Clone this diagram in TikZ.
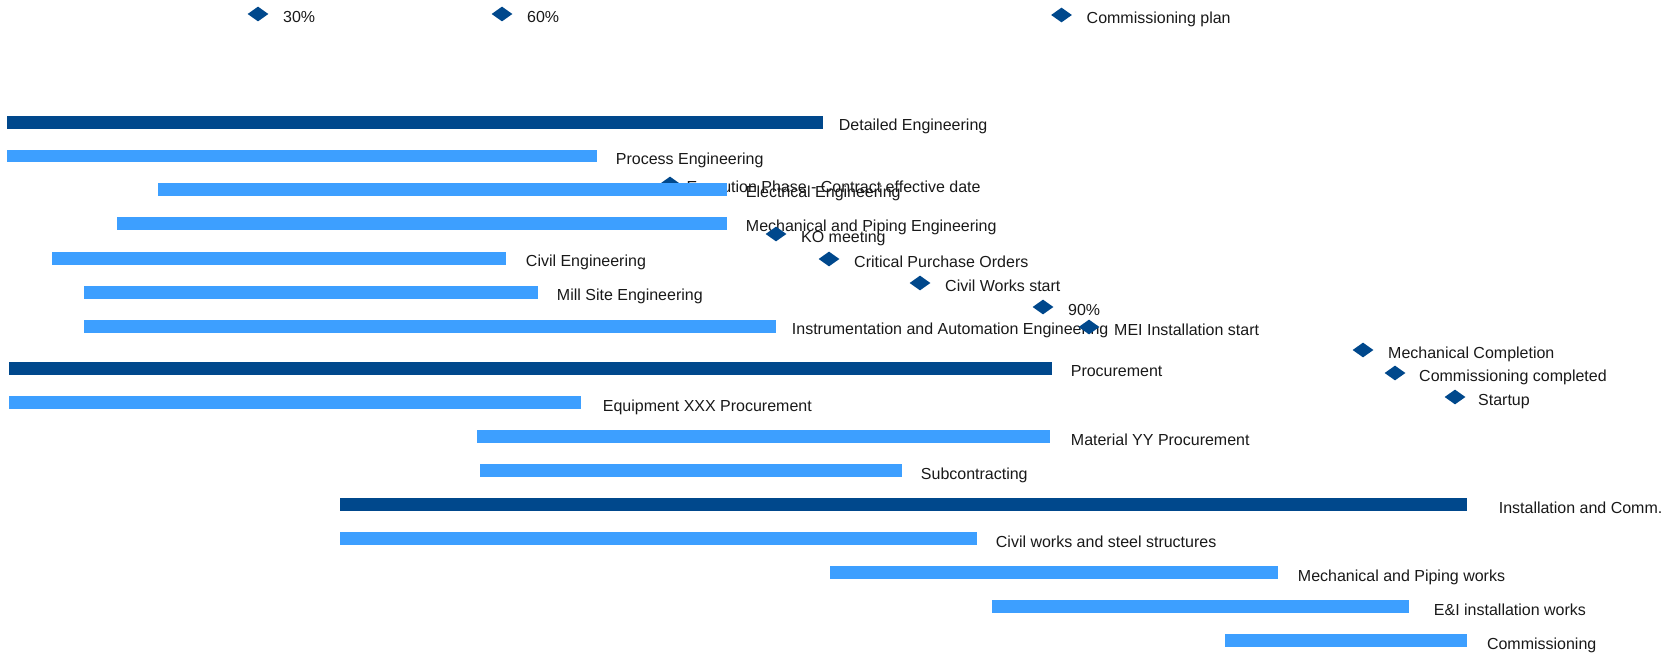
\documentclass[tikz,border=0pt]{standalone}
\usepackage{fontspec}
\setmainfont{Liberation Sans}
\usepackage{tikz}
\usepackage{xcolor}
\usetikzlibrary{shapes.geometric, positioning}

\definecolor{phaseblue}{RGB}{0,72,140}
\definecolor{taskblue}{RGB}{61,159,255}

\pgfdeclarelayer{labels}
\pgfdeclarelayer{bars}
\pgfsetlayers{labels,main,bars}

\tikzset{
  phasebar/.style={fill=phaseblue, draw=none, anchor=west, inner sep=0, minimum height=0.26cm},
  taskbar/.style={fill=taskblue, draw=none, anchor=west, inner sep=0, minimum height=0.26cm},
  milestone/.style={diamond, fill=phaseblue, draw=none, inner sep=0, minimum width=0.42cm, minimum height=0.3cm},
  barlabel/.style={inner sep=0, text height=0.34cm, text depth=0pt, text=black!90, font=\fontsize{9.1}{11}\selectfont},
  mslabel/.style={barlabel}
}

\begin{document}
\begin{tikzpicture}[x=0.02cm, y=-0.02cm, node distance=0.36cm]
\useasboundingbox (0,0) rectangle (1666,655);

% Bars
\begin{pgfonlayer}{bars}
\node[phasebar, minimum width=16.32cm] (detailed) at (7,122.5) {};
\node[taskbar, minimum width=11.80cm] (process) at (7,156) {};
\node[taskbar, minimum width=11.38cm] (electrical) at (158,189.5) {};
\node[taskbar, minimum width=12.20cm] (mechpiping) at (117,223.5) {};
\node[taskbar, minimum width=9.08cm] (civil) at (52,258.5) {};
\node[taskbar, minimum width=9.08cm] (millsite) at (84,292.5) {};
\node[taskbar, minimum width=13.84cm] (instrument) at (84,326.5) {};

\node[phasebar, minimum width=20.86cm] (procurement) at (9,368.5) {};
\node[taskbar, minimum width=11.44cm] (equipment) at (9,402.5) {};
\node[taskbar, minimum width=11.46cm] (material) at (477,436.5) {};
\node[taskbar, minimum width=8.44cm] (subcontract) at (480,470.5) {};

\node[phasebar, minimum width=22.54cm] (install) at (340,504.5) {};
\node[taskbar, minimum width=12.74cm] (civilworks) at (340,538.5) {};
\node[taskbar, minimum width=8.96cm] (mechworks) at (830,572.5) {};
\node[taskbar, minimum width=8.34cm] (eiworks) at (992,606.5) {};
\node[taskbar, minimum width=4.84cm] (commission) at (1225,640.5) {};
\end{pgfonlayer}

% Bar labels
\begin{pgfonlayer}{labels}
\node[barlabel, right=0.30cm of detailed] (detailedlbl) {Detailed Engineering};
\node[barlabel, right=of process] (processlbl) {Process Engineering};
\node[barlabel, right=of electrical] (electricallbl) {Electrical Engineering};
\node[barlabel, right=of mechpiping] (mechpipinglbl) {Mechanical and Piping Engineering};
\node[barlabel, right=0.38cm of civil] (civillbl) {Civil Engineering};
\node[barlabel, right=of millsite] (millsitelbl) {Mill Site Engineering};
\node[barlabel, right=0.30cm of instrument] (instrumentlbl) {Instrumentation and Automation Engineering};

\node[barlabel, right=of procurement] (procurementlbl) {Procurement};
\node[barlabel, right=0.42cm of equipment] (equipmentlbl) {Equipment XXX Procurement};
\node[barlabel, right=0.40cm of material] (materiallbl) {Material YY Procurement};
\node[barlabel, right=of subcontract] (subcontractlbl) {Subcontracting};

\node[barlabel, right=0.62cm of install] (installlbl) {Installation and Comm.};
\node[barlabel, right=of civilworks] (civilworkslbl) {Civil works and steel structures};
\node[barlabel, right=0.38cm of mechworks] (mechworkslbl) {Mechanical and Piping works};
\node[barlabel, right=0.48cm of eiworks] (eiworkslbl) {E\&I installation works};
\node[barlabel, right=0.38cm of commission] (commissionlbl) {Commissioning};
\end{pgfonlayer}

% Milestones
\node[milestone] (m30) at (258,14) {};
\node[mslabel, right=0.28cm of m30] (m30lbl) {30\%};
\node[milestone] (m60) at (502,14) {};
\node[mslabel, right=0.28cm of m60] (m60lbl) {60\%};
\node[milestone] (plan) at (1061.5,15) {};
\node[mslabel, right=0.28cm of plan] (planlbl) {Commissioning plan};

\node[milestone] (effective) at (670,184) {};
\node[mslabel, right=0.11cm of effective] (effectivelbl) {Execution Phase - Contract effective date};
\node[milestone] (kickoff) at (776,234) {};
\node[mslabel, right=0.28cm of kickoff] (kickofflbl) {KO meeting};
\node[milestone] (orders) at (829,259) {};
\node[mslabel, right=0.28cm of orders] (orderslbl) {Critical Purchase Orders};
\node[milestone] (civilstart) at (920,283) {};
\node[mslabel, right=0.28cm of civilstart] (civilstartlbl) {Civil Works start};
\node[milestone] (m90) at (1043,307) {};
\node[mslabel, right=0.28cm of m90] (m90lbl) {90\%};
\node[milestone] (meistart) at (1089,327) {};
\node[mslabel, right=0.28cm of meistart] (meistartlbl) {MEI Installation start};

\node[milestone] (mechdone) at (1363,350) {};
\node[mslabel, right=0.28cm of mechdone] (mechdonelbl) {Mechanical Completion};
\node[milestone] (commdone) at (1395,373) {};
\node[mslabel, right=0.26cm of commdone] (commdonelbl) {Commissioning completed};
\node[milestone] (startup) at (1455,397) {};
\node[mslabel, right=0.24cm of startup] (startuplbl) {Startup};

\end{tikzpicture}
\end{document}
